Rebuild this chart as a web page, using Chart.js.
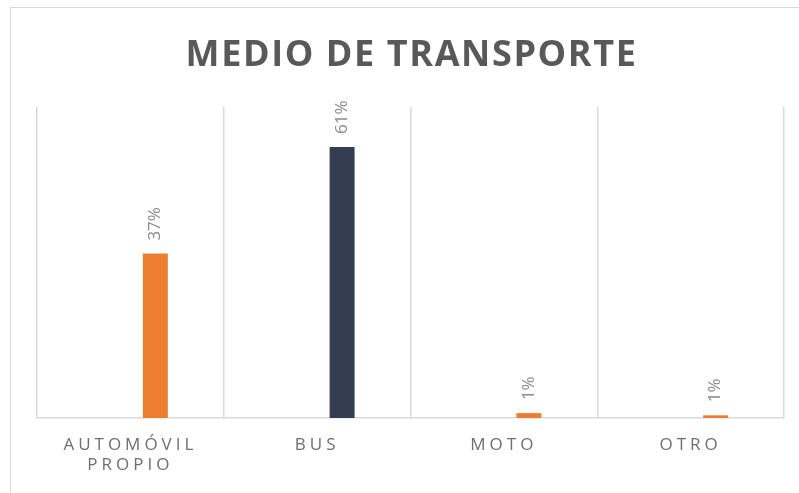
<!DOCTYPE html>
<html>
<head>
<meta charset="utf-8">
<script src="https://cdn.jsdelivr.net/npm/chart.js@4"></script>
<style>
  html, body { margin: 0; padding: 0; background: #fff; }
  #wrap { position: relative; width: 799px; height: 493px; overflow: hidden; }
  #frame { position: absolute; left: 10px; top: 7px; width: 900px; height: 600px; border: 1.5px solid #d9d9d9; box-sizing: border-box; }
  canvas { position: absolute; left: 0; top: 0; }
</style>
</head>
<body>
<div id="wrap">
  <div id="frame"></div>
  <canvas id="c" width="799" height="493"></canvas>
</div>
<script>
const title = "MEDIO DE TRANSPORTE";
const categories = [["AUTOMÓVIL", "PROPIO"], "BUS", "MOTO", "OTRO"];
const percentages = [37, 61, 1.1, 0.6];
const barColors = ["#ED7D31", "#333F50", "#ED7D31", "#ED7D31"];
const emptySeries = [null, null, null, null];

const titlePlugin = {
  id: 'spacedTitle',
  beforeDraw(chart) {
    const ctx = chart.ctx;
    ctx.save();
    ctx.letterSpacing = '1.6px';
    ctx.font = 'bold 36px "Open Sans", sans-serif';
    ctx.fillStyle = '#595959';
    ctx.textAlign = 'center';
    ctx.textBaseline = 'alphabetic';
    const ca = chart.chartArea;
    ctx.fillText(title, (ca.left + ca.right) / 2 + 1, 66);
    ctx.restore();
    ctx.letterSpacing = '4px';
  },
  afterDatasetsDraw(chart) {
    const ctx = chart.ctx;
    const meta = chart.getDatasetMeta(1);
    ctx.save();
    ctx.letterSpacing = '0px';
    ctx.font = '17px "Open Sans", sans-serif';
    ctx.fillStyle = '#8a8a8a';
    ctx.textAlign = 'left';
    ctx.textBaseline = 'middle';
    meta.data.forEach((bar, i) => {
      const v = percentages[i];
      ctx.save();
      ctx.translate(bar.x, bar.y - 13);
      ctx.rotate(-Math.PI / 2);
      ctx.fillText(Math.round(v) + '%', 0, 0);
      ctx.restore();
    });
    ctx.restore();
  }
};

new Chart(document.getElementById('c'), {
  type: 'bar',
  data: {
    labels: categories,
    datasets: [
      { data: emptySeries, backgroundColor: '#A5A5A5' },
      { data: percentages, backgroundColor: barColors }
    ]
  },
  options: {
    responsive: false,
    animation: false,
    events: [],
    layout: { padding: { left: 37, right: 15, top: 107, bottom: 0 } },
    datasets: { bar: { categoryPercentage: 0.535, barPercentage: 0.5 } },
    plugins: { legend: { display: false }, tooltip: { enabled: false }, title: { display: false } },
    scales: {
      y: { display: false, min: 0, max: 70 },
      x: {
        afterFit: s => { s.height = 75; },
        grid: { display: true, offset: true, color: '#d9d9d9', lineWidth: 1.5, drawTicks: false },
        border: { display: true, color: '#d9d9d9', width: 1.5 },
        ticks: { color: '#6e6e6e', padding: 17, font: { family: '"Open Sans", sans-serif', size: 17 } }
      }
    }
  },
  plugins: [titlePlugin]
});
</script>
</body>
</html>
